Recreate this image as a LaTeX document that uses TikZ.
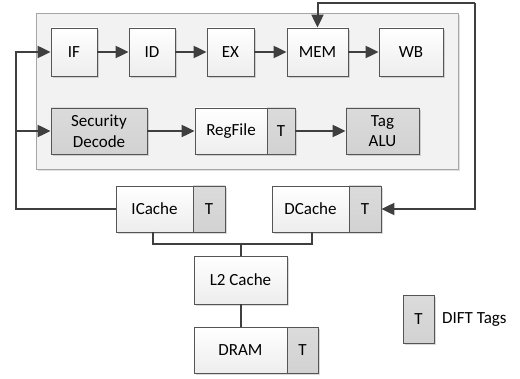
\documentclass[tikz,border=0pt]{standalone}
\usepackage{fontspec}
\setmainfont{Carlito}
\usetikzlibrary{arrows.meta,shadows}

\definecolor{wire}{HTML}{3F3F3F}
\definecolor{edge}{HTML}{555555}
\definecolor{tagfill}{HTML}{D2D2D2}
\definecolor{panel}{HTML}{F2F2F2}

\tikzset{
  txt/.style={font=\fontsize{17}{20.5}\selectfont},
  unit/.style={draw=edge, line width=0.8pt, top color=white, bottom color=black!7,
    minimum height=46pt, inner sep=0pt, align=center, txt,
    drop shadow={shadow xshift=1.8pt, shadow yshift=-1.8pt, opacity=0.25, fill=black!60}},
  tagunit/.style={unit, top color=tagfill!80, bottom color=tagfill},
  wireline/.style={draw=wire, line width=2pt},
  flow/.style={wireline, -{Triangle[length=13pt,width=12pt]}},
}

\begin{document}
\begin{tikzpicture}[x=1pt,y=-1pt]
  \useasboundingbox (0,0) rectangle (520,379);

  % pipeline panel
  \node[draw=black!35, fill=panel, line width=0.8pt, inner sep=0pt,
        minimum width=422pt, minimum height=156pt,
        drop shadow={shadow xshift=2pt, shadow yshift=-2pt, opacity=0.2, fill=black!60}]
        (panel) at (247,91) {};

  % pipeline stages
  \node[unit, minimum width=46pt, minimum height=48pt] (if)  at (74,52)    {IF};
  \node[unit, minimum width=46pt, minimum height=48pt] (id)  at (152,52)   {ID};
  \node[unit, minimum width=47pt, minimum height=48pt] (ex)  at (230.5,52) {EX};
  \node[unit, minimum width=61pt, minimum height=48pt] (mem) at (317.5,52) {MEM};
  \node[unit, minimum width=64pt, minimum height=48pt] (wb)  at (411,52)   {WB};

  % security path
  \node[tagunit, minimum width=96pt] (secdec) at (99,131) {Security\\Decode};
  \node[unit, minimum width=72pt] (regfile) at (231,131) {RegFile};
  \node[tagunit, minimum width=28pt] (regT) at (281,131) {T};
  \node[tagunit, minimum width=73pt] (tagalu) at (382.5,131) {Tag\\ALU};

  % memory hierarchy
  \node[unit, minimum width=77pt] (icache) at (154.5,209) {ICache};
  \node[tagunit, minimum width=32pt] (icacheT) at (209,209) {T};
  \node[unit, minimum width=77pt] (dcache) at (310.5,209) {DCache};
  \node[tagunit, minimum width=32pt] (dcacheT) at (365,209) {T};
  \node[unit, minimum width=93pt, minimum height=48pt] (l2) at (240.5,280) {L2 Cache};
  \node[unit, minimum width=93pt] (dram) at (240.5,350.5) {DRAM};
  \node[tagunit, minimum width=31pt] (dramT) at (302.5,350.5) {T};

  % legend
  \node[tagunit, minimum width=31pt, minimum height=48pt] (legT) at (418.5,319.5) {T};
  \node[anchor=west, inner sep=0pt, txt] (legtext) at (442,319.5) {DIFT Tags};

  % pipeline flow
  \draw[flow] (if) -- (id);
  \draw[flow] (id) -- (ex);
  \draw[flow] (ex) -- (mem);
  \draw[flow] (mem) -- (wb);
  \draw[flow] (secdec) -- (regfile);
  \draw[flow] (regT) -- (tagalu);

  % instruction fetch path
  \coordinate (fetchbus) at (16,131);
  \draw[wireline] (icache.west) -- (16,209) -- (fetchbus);
  \draw[flow] (fetchbus) |- (if.west);
  \draw[flow] (fetchbus) -- (secdec.west);

  % data memory path
  \coordinate (dtop) at (475,3);
  \draw[flow] (dtop) -| (mem.north);
  \draw[flow] (dtop) |- (dcacheT.east);

  % cache bus
  \coordinate (bus) at (240.5,244);
  \draw[wireline] (153,232) -- (153,244) -- (312,244) -- (312,232);
  \draw[wireline] (l2.north) -- (bus);
  \draw[wireline] (l2.south) -- (dram.north);
\end{tikzpicture}
\end{document}
